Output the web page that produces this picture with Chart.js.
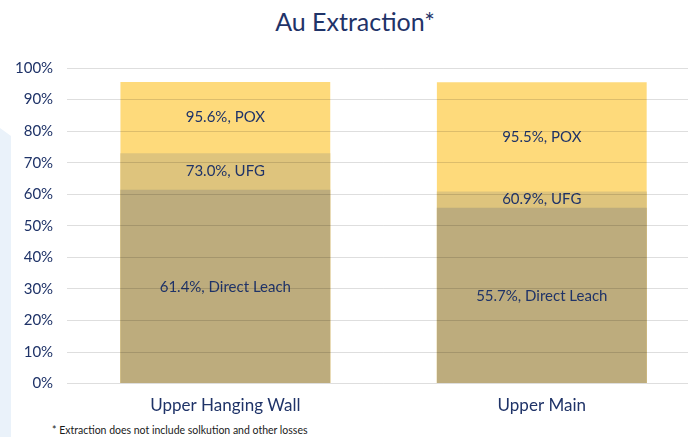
<!DOCTYPE html>
<html>
<head>
<meta charset="utf-8">
<script src="https://cdn.jsdelivr.net/npm/chart.js@4/dist/chart.umd.min.js"></script>
<style>
  html, body { margin: 0; padding: 0; background: #fff; }
  #wrap { position: relative; width: 688px; height: 437px; overflow: hidden; }
  #deco { position: absolute; left: 0; top: 128px; width: 11px; height: 309px; background: #EAF2FA;
          clip-path: polygon(0 0, 100% 8px, 100% 100%, 0 100%); }
  #chart-box { position: absolute; left: 0; top: 0; width: 700px; height: 420px; }
  #title { position: absolute; left: 0; top: 6px; width: 710px; text-align: center;
           font: 25px Lato, sans-serif; color: #1F3368; }
  #note { position: absolute; left: 52px; top: 424px; font: 10.5px Lato, sans-serif; color: #1a1a1a; }
</style>
</head>
<body>
<div id="wrap">
  <div id="deco"></div>
  <div id="title">Au Extraction*</div>
  <div id="chart-box"><canvas id="chart1"></canvas></div>
  <div id="note">* Extraction does not include solkution and other losses</div>
</div>
<script>
var categories = ['Upper Hanging Wall', 'Upper Main'];
var directLeach = [61.4, 55.7];
var ufg = [73.0, 60.9];
var pox = [95.6, 95.5];
var yTicks = [0, 10, 20, 30, 40, 50, 60, 70, 80, 90, 100];

var navy = '#1F3368';

// writes "xx.x%, Name" in the middle of each visible band
var bandLabels = {
    id: 'bandLabels',
    afterDatasetsDraw: function(chart) {
        var ctx = chart.ctx;
        var y = chart.scales.y;
        ctx.save();
        ctx.font = '15px Lato, sans-serif';
        ctx.fillStyle = navy;
        ctx.textAlign = 'center';
        ctx.textBaseline = 'middle';
        chart.data.datasets.forEach(function(ds, i) {
            var meta = chart.getDatasetMeta(i);
            meta.data.forEach(function(bar, j) {
                var top = ds.data[j];
                var below = i > 0 ? chart.data.datasets[i - 1].data[j] : 0;
                var mid = y.getPixelForValue((top + below) / 2);
                ctx.fillText(top.toFixed(1) + '%, ' + ds.label, bar.x, mid);
            });
        });
        ctx.restore();
    }
};

var ctx1 = document.getElementById('chart1');
var chart1 = new Chart(ctx1.getContext('2d'), {
    type: 'bar',
    data: {
        labels: categories,
        datasets: [{
            label: 'Direct Leach',
            data: directLeach,
            backgroundColor: 'rgb(189, 172, 125)',
            order: 1
        }, {
            label: 'UFG',
            data: ufg,
            backgroundColor: 'rgb(222, 196, 125)',
            order: 2
        }, {
            label: 'POX',
            data: pox,
            backgroundColor: 'rgb(254, 218, 123)',
            order: 3
        }]
    },
    options: {
        responsive: true,
        maintainAspectRatio: false,
        animation: false,
        layout: { padding: { left: 1, right: 0, top: 68, bottom: 0 } },
        datasets: { bar: { categoryPercentage: 1, barPercentage: 0.663 } },
        plugins: {
            legend: { display: false },
            tooltip: { enabled: false },
            title: { display: false }
        },
        scales: {
            x: {
                stacked: true,
                grid: { display: false },
                border: { display: false },
                ticks: { color: navy, font: { family: 'Lato, sans-serif', size: 17 }, padding: 4 }
            },
            y: {
                stacked: false,
                min: 0,
                max: 100,
                afterBuildTicks: function(axis) {
                    axis.ticks = yTicks.map(function(v) { return { value: v }; });
                },
                grid: { color: 'rgba(0,0,0,0.13)', drawTicks: false, z: 1 },
                border: { display: false },
                ticks: {
                    color: navy,
                    padding: 14,
                    font: { family: 'Lato, sans-serif', size: 15 },
                    callback: function(v) { return v + '%'; }
                }
            }
        }
    },
    plugins: [bandLabels]
});
</script>
</body>
</html>
